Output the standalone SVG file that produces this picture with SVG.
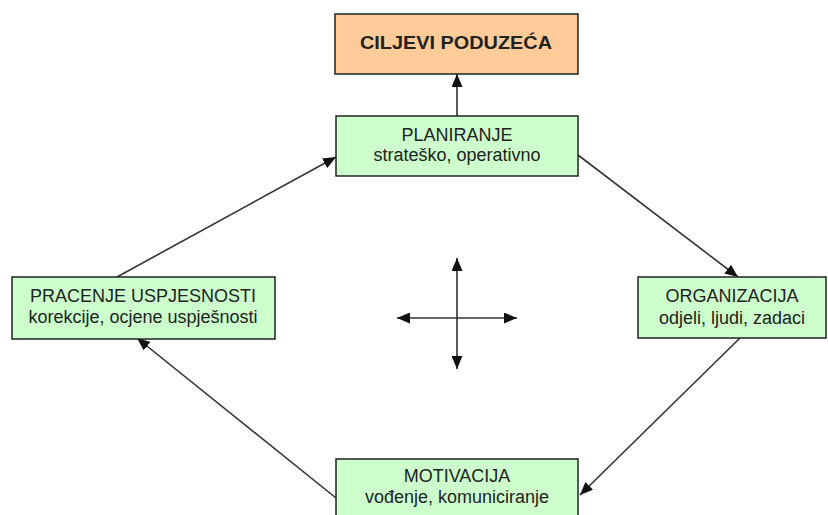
<svg xmlns="http://www.w3.org/2000/svg" width="828" height="515" viewBox="0 0 828 515">
<defs>
<marker id="ah" viewBox="0 0 13 11" refX="13" refY="5.5" markerWidth="13" markerHeight="11" markerUnits="userSpaceOnUse" orient="auto">
<path d="M0,0 L13,5.5 L0,11 z" fill="#111"/>
</marker>
<style>
.box{fill:#ccffcc;stroke:#222;stroke-width:1.5}
.goal{fill:#ffcc99;stroke:#222;stroke-width:1.5}
.t{font-family:"Liberation Sans",Arial,sans-serif;font-size:18px;fill:#222;text-anchor:middle}
.tb{font-family:"Liberation Sans",Arial,sans-serif;font-size:19px;font-weight:bold;fill:#222;text-anchor:middle}
.c{stroke:#333;stroke-width:1.6;fill:none;marker-end:url(#ah)}
</style>
</defs>
<rect width="828" height="515" fill="#fff"/>
<g id="connectors">
<line class="c" x1="457" y1="116" x2="457" y2="74"/>
<line class="c" x1="578" y1="155" x2="738" y2="277"/>
<line class="c" x1="740" y1="338" x2="580" y2="495"/>
<line class="c" x1="336" y1="498" x2="137" y2="338"/>
<line class="c" x1="117" y1="277" x2="336" y2="157"/>
<line class="c" x1="457" y1="318" x2="457" y2="258"/>
<line class="c" x1="457" y1="318" x2="457" y2="369"/>
<line class="c" x1="457" y1="318" x2="397" y2="318"/>
<line class="c" x1="457" y1="318" x2="517" y2="318"/>
</g>
<g id="ciljevi">
<rect class="goal" x="335" y="14" width="243" height="60"/>
<text class="tb" x="456" y="49" textLength="192" lengthAdjust="spacingAndGlyphs">CILJEVI PODUZEĆA</text>
</g>
<g id="planiranje">
<rect class="box" x="336" y="116" width="242" height="60"/>
<text class="t" x="457" y="141">PLANIRANJE</text>
<text class="t" x="457" y="161">strateško, operativno</text>
</g>
<g id="pracenje">
<rect class="box" x="12" y="277" width="263" height="62"/>
<text class="t" x="143" y="302">PRACENJE USPJESNOSTI</text>
<text class="t" x="143" y="323">korekcije, ocjene uspješnosti</text>
</g>
<g id="organizacija">
<rect class="box" x="638" y="277" width="188" height="61"/>
<text class="t" x="732" y="302">ORGANIZACIJA</text>
<text class="t" x="732" y="324">odjeli, ljudi, zadaci</text>
</g>
<g id="motivacija">
<rect class="box" x="336" y="459" width="242" height="70"/>
<text class="t" x="457" y="482">MOTIVACIJA</text>
<text class="t" x="457" y="503">vođenje, komuniciranje</text>
</g>
</svg>
